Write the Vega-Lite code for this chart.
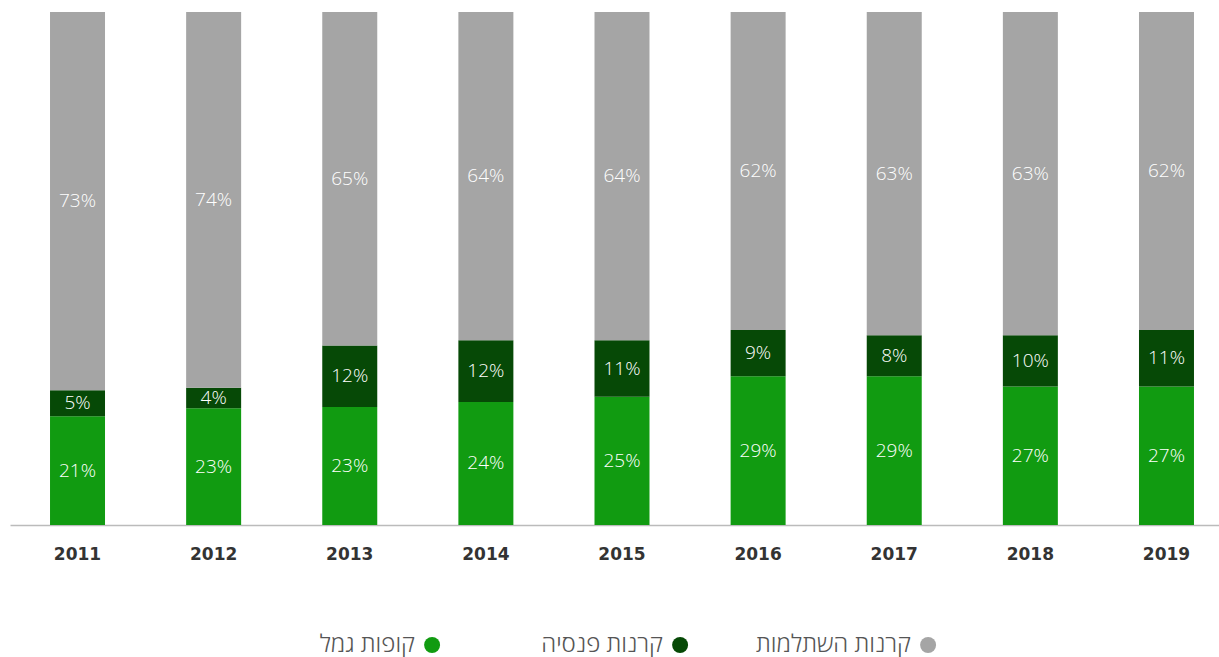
{
  "$schema": "https://vega.github.io/schema/vega-lite/v6.json",
  "padding": {"left": 10, "top": 12, "right": 0, "bottom": 0},
  "background": "white",
  "config": {"view": {"stroke": null}, "font": "Open Sans"},
  "datasets": {
    "shares": [
      {"year": "2011", "series": "קופות גמל", "rank": 1, "value": 21},
      {"year": "2011", "series": "קרנות פנסיה", "rank": 2, "value": 5},
      {"year": "2011", "series": "קרנות השתלמות", "rank": 3, "value": 73},
      {"year": "2012", "series": "קופות גמל", "rank": 1, "value": 23},
      {"year": "2012", "series": "קרנות פנסיה", "rank": 2, "value": 4},
      {"year": "2012", "series": "קרנות השתלמות", "rank": 3, "value": 74},
      {"year": "2013", "series": "קופות גמל", "rank": 1, "value": 23},
      {"year": "2013", "series": "קרנות פנסיה", "rank": 2, "value": 12},
      {"year": "2013", "series": "קרנות השתלמות", "rank": 3, "value": 65},
      {"year": "2014", "series": "קופות גמל", "rank": 1, "value": 24},
      {"year": "2014", "series": "קרנות פנסיה", "rank": 2, "value": 12},
      {"year": "2014", "series": "קרנות השתלמות", "rank": 3, "value": 64},
      {"year": "2015", "series": "קופות גמל", "rank": 1, "value": 25},
      {"year": "2015", "series": "קרנות פנסיה", "rank": 2, "value": 11},
      {"year": "2015", "series": "קרנות השתלמות", "rank": 3, "value": 64},
      {"year": "2016", "series": "קופות גמל", "rank": 1, "value": 29},
      {"year": "2016", "series": "קרנות פנסיה", "rank": 2, "value": 9},
      {"year": "2016", "series": "קרנות השתלמות", "rank": 3, "value": 62},
      {"year": "2017", "series": "קופות גמל", "rank": 1, "value": 29},
      {"year": "2017", "series": "קרנות פנסיה", "rank": 2, "value": 8},
      {"year": "2017", "series": "קרנות השתלמות", "rank": 3, "value": 63},
      {"year": "2018", "series": "קופות גמל", "rank": 1, "value": 27},
      {"year": "2018", "series": "קרנות פנסיה", "rank": 2, "value": 10},
      {"year": "2018", "series": "קרנות השתלמות", "rank": 3, "value": 63},
      {"year": "2019", "series": "קופות גמל", "rank": 1, "value": 27},
      {"year": "2019", "series": "קרנות פנסיה", "rank": 2, "value": 11},
      {"year": "2019", "series": "קרנות השתלמות", "rank": 3, "value": 62}
    ],
    "legend": [
      {"series": "קופות גמל"},
      {"series": "קרנות פנסיה"},
      {"series": "קרנות השתלמות"}
    ]
  },
  "spacing": 68,
  "vconcat": [
    {
      "width": 1224,
      "height": 513,
      "data": {"name": "shares"},
      "encoding": {
        "x": {
          "field": "year",
          "type": "ordinal",
          "scale": {"paddingInner": 0.596, "paddingOuter": 0.294},
          "axis": {
            "title": null,
            "labelAngle": 0,
            "ticks": false,
            "grid": false,
            "domainColor": "#bbbbbb",
            "domainWidth": 1.5,
            "labelFontSize": 17,
            "labelFontWeight": "bold",
            "labelFont": "DejaVu Sans",
            "labelColor": "#333333",
            "labelPadding": 21
          }
        },
        "y": {"field": "value", "type": "quantitative", "stack": "normalize", "axis": null},
        "order": {"field": "rank", "type": "quantitative"}
      },
      "layer": [
        {
          "mark": {"type": "bar"},
          "encoding": {
            "color": {
              "field": "series",
              "type": "nominal",
              "scale": {
                "domain": ["קופות גמל", "קרנות פנסיה", "קרנות השתלמות"],
                "range": ["#119b11", "#064906", "#a5a5a5"]
              },
              "legend": null
            }
          }
        },
        {
          "mark": {
            "type": "text",
            "color": "white",
            "fontSize": 19,
            "fontWeight": 300,
            "text": {"expr": "datum.value + '%'"}
          },
          "encoding": {
            "y": {"field": "value", "type": "quantitative", "stack": "normalize", "bandPosition": 0.5},
            "detail": {"field": "series", "type": "nominal"}
          }
        }
      ]
    },
    {
      "width": 992,
      "height": 30,
      "data": {"name": "legend"},
      "encoding": {
        "x": {
          "field": "series",
          "type": "nominal",
          "sort": null,
          "scale": {"type": "point", "padding": 1, "align": 0.851},
          "axis": null
        }
      },
      "layer": [
        {
          "mark": {"type": "point", "filled": true, "size": 256, "opacity": 1, "shape": "circle"},
          "encoding": {
            "color": {
              "field": "series",
              "type": "nominal",
              "scale": {
                "domain": ["קופות גמל", "קרנות פנסיה", "קרנות השתלמות"],
                "range": ["#119b11", "#064906", "#a5a5a5"]
              },
              "legend": null
            }
          }
        },
        {
          "mark": {"type": "text", "align": "right", "dx": -17, "fontSize": 24, "fontWeight": 300, "color": "#555555"},
          "encoding": {"text": {"field": "series", "type": "nominal"}}
        }
      ]
    }
  ]
}
